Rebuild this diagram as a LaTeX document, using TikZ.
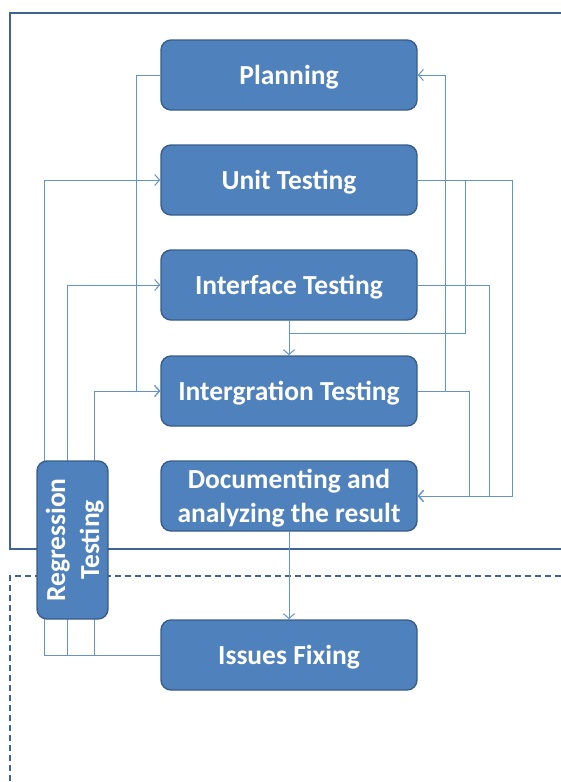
\documentclass[tikz,border=0pt]{standalone}
\usepackage{fontspec}
\setmainfont{Carlito}
\usepackage{xcolor}
\definecolor{boxfill}{HTML}{4F81BD}
\definecolor{boxline}{HTML}{385D8A}
\definecolor{linkblue}{HTML}{6392CC}
\definecolor{framecol}{HTML}{3F6494}
\usetikzlibrary{positioning, arrows.meta, calc}

\begin{document}
\begin{tikzpicture}[x=1pt, y=-1pt,
  stage/.style={draw=boxline, line width=1.4pt, fill=boxfill, rounded corners=10pt,
               minimum width=256pt, minimum height=70pt, text=white, text depth=0pt,
               font=\fontsize{27.5}{34}\selectfont\bfseries, align=center, inner sep=2pt},
  link/.style={draw=linkblue, line width=1pt},
  arr/.style={-{Straight Barb[length=5pt, width=11pt, line width=1pt]}},
]
\useasboundingbox (0,0) rectangle (561,782);

% Frames
\draw[framecol, line width=1.8pt] (561,13) -- (10,13) -- (10,549) -- (561,549);
\draw[framecol, line width=1.8pt, dash pattern=on 6pt off 4pt] (561,576) -- (10,576) -- (10,782);

% Stages
\node[stage] (plan) at (289,75) {Planning};
\node[stage] (unit) at (289,180) {Unit Testing};
\node[stage] (iface) at (289,285) {Interface Testing};
\node[stage] (integ) at (289,391) {Intergration Testing};
\node[stage] (doc) at (289,496) {Documenting and\\analyzing the result};
\node[stage] (fix) at (289,655) {Issues Fixing};

% Lanes of the regression loop
\coordinate (laneA) at (44,0);
\coordinate (laneB) at (67,0);
\coordinate (laneC) at (94,0);
\coordinate (join) at ($(iface.south)!0.36!(integ.north)$);

% Left connectors
\draw[link, arr] (plan.west) -- ++(-24,0) |- (integ.west);
\draw[link, arr] (fix.west) -- (fix.west -| laneA) |- (unit.west);
\draw[link, arr] (fix.west -| laneB) |- (iface.west);
\draw[link, arr] (fix.west -| laneC) |- (integ.west);

% Right connectors
\draw[link, arr] (integ.east) -- ++(28,0) |- (plan.east);
\draw[link, arr] (integ.east) -- ++(52,0) |- (doc.east);
\draw[link, arr] (iface.east) -- ++(72,0) |- (doc.east);
\draw[link, arr] (unit.east) -- ++(95,0) |- (doc.east);
\draw[link] (unit.east) -- ++(48,0) |- (join);
\draw[link, arr] (iface.south) -- (integ.north);
\draw[link, arr] (doc.south) -- (fix.north);

% Regression box on top of the lanes
\node[stage, rotate=90, minimum width=158pt, minimum height=71pt, inner sep=0pt,
      font=\fontsize{27.5}{34}\selectfont\bfseries] (reg) at (72.5,540) {Regression\\Testing};
\end{tikzpicture}
\end{document}
